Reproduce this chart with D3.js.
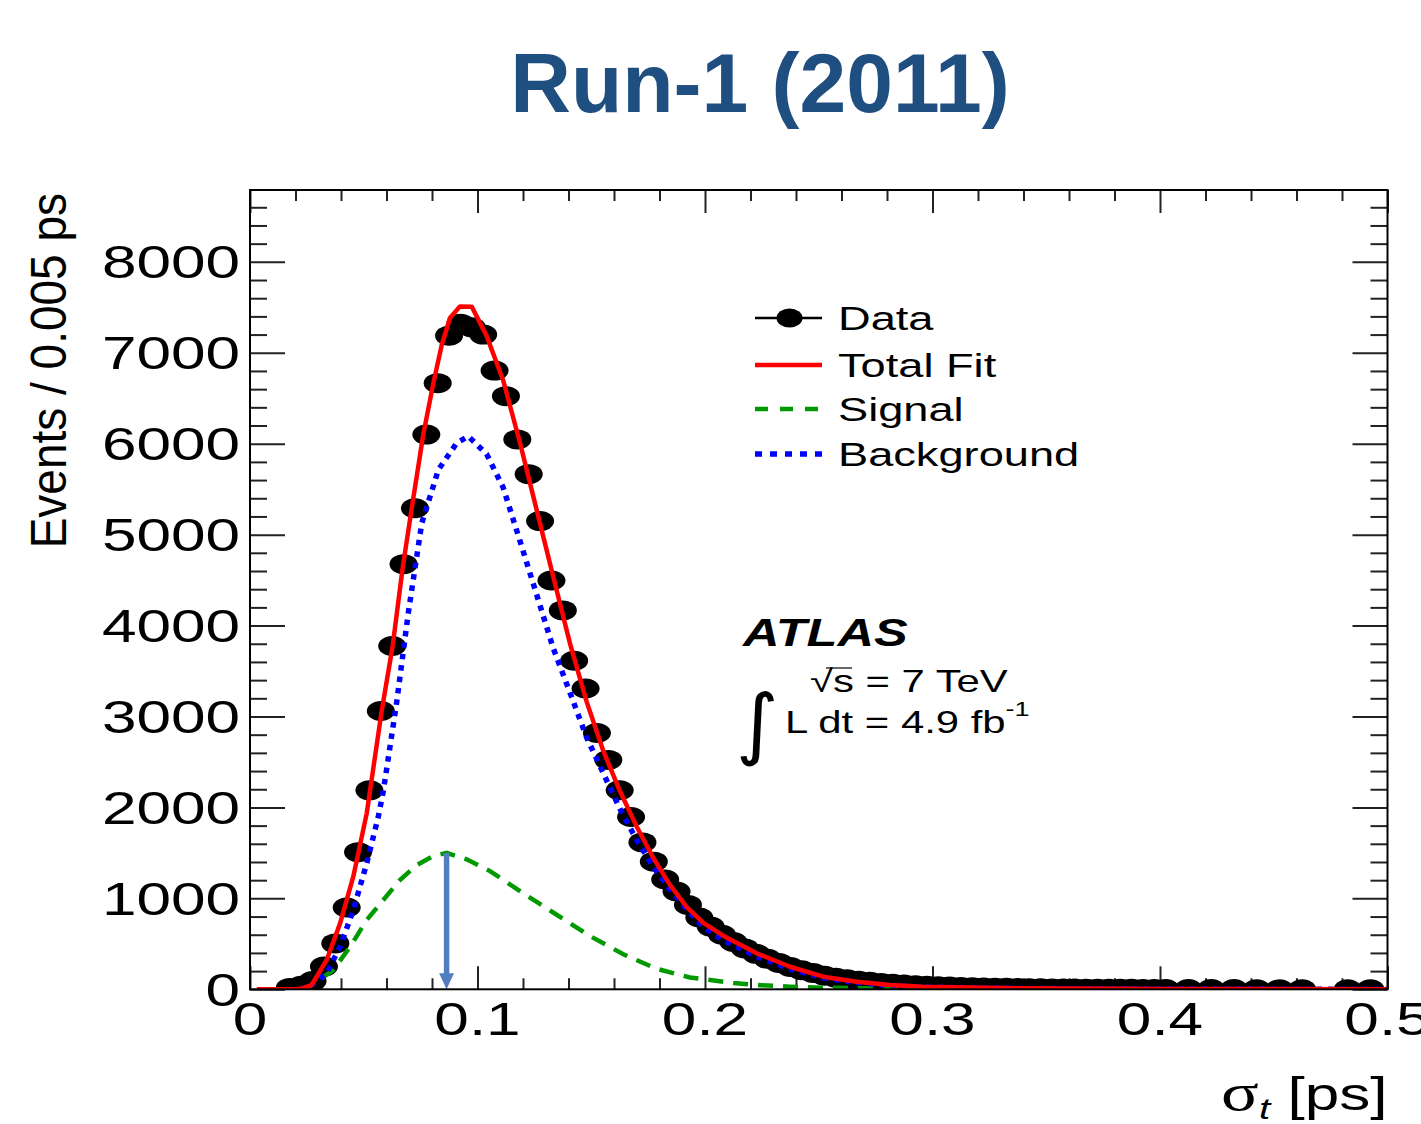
<!DOCTYPE html>
<html>
<head>
<meta charset="utf-8">
<script src="https://cdn.jsdelivr.net/npm/d3@7"></script>
<style>
  body { margin: 0; background: #fff; }
  svg { display: block; }
</style>
</head>
<body>
<svg id="chart" width="1421" height="1124"></svg>
<script>
// ---- data -------------------------------------------------------------
const binWidth = 0.005;   // ps per bin
// events per bin (first bin centred at 0.0025 ps); null = empty bin, not drawn
const dataCounts = [
  null, null, null, 15, 40, 90, 250, 505, 900, 1508,
  2188, 3060, 3775, 4675, 5290, 6100, 6666, 7188, 7320, 7280,
  7200, 6804, 6523, 6047, 5665, 5149, 4496, 4167, 3613, 3308,
  2818, 2523, 2189, 1895, 1615, 1404, 1207, 1075, 928, 790,
  690, 600, 520, 450, 390, 335, 290, 245, 210, 180,
  150, 128, 110, 95, 82, 70, 60, 52, 45, 39,
  34, 30, 26, 23, 20, 18, 16, 14, 12, 11,
  10, 9, 8, 7, 6, 6, 5, 5, 4, 4,
  3, null, 3, null, 2, null, 2, null, 1, null,
  1, null, 1, null, null, null, 1, null, 1, null
];

// fitted curves: sampled σt (ps) and events / 0.005 ps
const totalFitX = [0.003, 0.0205, 0.0227, 0.0271, 0.0337, 0.0396, 0.0454, 0.0513, 0.0579, 0.0627,
  0.0671, 0.0711, 0.0762, 0.0806, 0.0843, 0.0879, 0.0923, 0.0975, 0.104, 0.1113,
  0.1187, 0.126, 0.1333, 0.1407, 0.148, 0.1553, 0.1626, 0.17, 0.1773, 0.1846,
  0.192, 0.1993, 0.208, 0.2227, 0.2374, 0.252, 0.2667, 0.2813, 0.2958, 0.34, 0.4, 0.5];
const totalFitY = [0, 0, 10, 47, 322, 725, 1238, 1935, 3063, 3775,
  4633, 5292, 6106, 6666, 7088, 7382, 7510, 7505, 7186, 6695,
  6008, 5272, 4536, 3799, 3161, 2621, 2180, 1787, 1444, 1149,
  904, 730, 590, 396, 248, 139, 84, 47, 29, 11, 4, 1];

const signalX = [0.022, 0.025, 0.0366, 0.044, 0.0513, 0.0586, 0.0659, 0.0733, 0.0806, 0.0864,
  0.0952, 0.1055, 0.1201, 0.1348, 0.1495, 0.1641, 0.1788, 0.1934, 0.2125, 0.2227,
  0.2374, 0.252, 0.28, 0.33, 0.5];
const signalY = [0, 10, 212, 468, 762, 982, 1202, 1367, 1466, 1500,
  1430, 1300, 1056, 820, 585, 385, 225, 130, 70, 47,
  29, 18, 8, 2, 0];

const backgroundX = [0.022, 0.025, 0.0337, 0.0396, 0.0454, 0.0513, 0.0564, 0.0586, 0.0645, 0.0696,
  0.0755, 0.0828, 0.0909, 0.096, 0.104, 0.1113, 0.1187, 0.126, 0.1333, 0.1407,
  0.148, 0.1553, 0.1626, 0.17, 0.1773, 0.1846, 0.192, 0.1993, 0.208, 0.2227,
  0.2374, 0.252, 0.2667, 0.2813, 0.2958, 0.34, 0.4, 0.5];
const backgroundY = [0, 10, 176, 468, 872, 1385, 1898, 2180, 3161, 4143,
  5125, 5714, 6008, 6081, 5886, 5517, 4928, 4340, 3750, 3259,
  2768, 2376, 1984, 1640, 1345, 1100, 879, 683, 540, 360,
  225, 125, 74, 42, 25, 9, 3, 1];

// axis ticks
const xMajorTicks = [0, 0.1, 0.2, 0.3, 0.4, 0.5];
const xTickLabels = ["0", "0.1", "0.2", "0.3", "0.4", "0.5"];
const yMajorTicks = [0, 1000, 2000, 3000, 4000, 5000, 6000, 7000, 8000];
const yTickLabels = ["0", "1000", "2000", "3000", "4000", "5000", "6000", "7000", "8000"];

const legendLabels = ["Data", "Total Fit", "Signal", "Background"];

// ---- layout -----------------------------------------------------------
const svg = d3.select("#chart");
const W = 1421, H = 1124;
const plot = { left: 250, right: 1387.5, top: 190, bottom: 989.3 };
const yMax = 8790;
const stretch = 1.35;          // horizontal stretch of the plot lettering
const sans = "'Liberation Sans', Arial, Helvetica, sans-serif";

const x = d3.scaleLinear().domain([0, 0.5]).range([plot.left, plot.right]);
const y = d3.scaleLinear().domain([0, yMax]).range([plot.bottom, plot.top]);

svg.append("rect").attr("width", W).attr("height", H).attr("fill", "#fff");

// title
svg.append("text")
  .attr("x", 760).attr("y", 112)
  .attr("text-anchor", "middle")
  .attr("font-family", sans).attr("font-weight", "bold").attr("font-size", 84)
  .attr("fill", "#1f4e80")
  .text("Run-1 (2011)");

// clip for plot contents
svg.append("clipPath").attr("id", "plotClip")
  .append("rect")
  .attr("x", plot.left).attr("y", plot.top)
  .attr("width", plot.right - plot.left).attr("height", plot.bottom - plot.top);

// ---- ticks (mirrored on all four sides) ------------------------------
const xMinorTicks = d3.range(0, 0.5001, 0.02).filter(v => Math.abs(v * 10 - Math.round(v * 10)) > 1e-6);
const yMinorTicks = d3.range(0, yMax, 200).filter(v => v % 1000 !== 0);

function tickAxis(axis, translate, values, size) {
  const g = svg.append("g").attr("transform", translate)
    .call(axis.tickValues(values).tickSize(size).tickFormat(""));
  g.select(".domain").remove();
  g.selectAll(".tick line").attr("stroke", "#222").attr("stroke-width", 2);
  return g;
}
// bottom (pointing up), top (pointing down)
tickAxis(d3.axisTop(x), `translate(0,${plot.bottom})`, xMajorTicks, 23);
tickAxis(d3.axisTop(x), `translate(0,${plot.bottom})`, xMinorTicks, 11);
tickAxis(d3.axisBottom(x), `translate(0,${plot.top})`, xMajorTicks, 23);
tickAxis(d3.axisBottom(x), `translate(0,${plot.top})`, xMinorTicks, 11);
// left (pointing right), right (pointing left)
tickAxis(d3.axisRight(y), `translate(${plot.left},0)`, yMajorTicks, 35);
tickAxis(d3.axisRight(y), `translate(${plot.left},0)`, yMinorTicks, 17);
tickAxis(d3.axisLeft(y), `translate(${plot.right},0)`, yMajorTicks, 35);
tickAxis(d3.axisLeft(y), `translate(${plot.right},0)`, yMinorTicks, 17);

// tick labels
svg.append("g").selectAll("g").data(xMajorTicks).join("g")
  .attr("transform", d => `translate(${x(d)},1035) scale(${stretch},1)`)
  .append("text")
  .attr("text-anchor", "middle")
  .attr("font-family", sans).attr("font-size", 46).attr("fill", "#000")
  .text((d, i) => xTickLabels[i]);

svg.append("g").selectAll("g").data(yMajorTicks).join("g")
  .attr("transform", d => `translate(240,${y(d) + 16.5}) scale(${stretch},1)`)
  .append("text")
  .attr("text-anchor", "end")
  .attr("font-family", sans).attr("font-size", 46).attr("fill", "#000")
  .text((d, i) => yTickLabels[i]);

// axis titles
svg.append("g").attr("transform", "translate(66,193) rotate(-90) scale(1,1.08)")
  .append("text")
  .attr("text-anchor", "end")
  .attr("font-family", sans).attr("font-size", 46).attr("fill", "#000")
  .text("Events / 0.005 ps");

const xTitle = svg.append("g").attr("transform", `translate(${plot.right},1110) scale(${stretch},1)`)
  .append("text").attr("text-anchor", "end")
  .attr("font-family", sans).attr("font-size", 46).attr("fill", "#000");
xTitle.append("tspan").attr("font-family", "'Liberation Serif', 'DejaVu Serif', serif").attr("font-size", 52).text("σ");
xTitle.append("tspan").attr("font-style", "italic").attr("font-size", 30).attr("dy", 9).text("t");
xTitle.append("tspan").attr("dy", -9).text(" [ps]");

// ---- marks ------------------------------------------------------------
const content = svg.append("g").attr("clip-path", "url(#plotClip)");

const points = dataCounts
  .map((v, i) => ({ xv: binWidth * (i + 0.5), yv: v }))
  .filter(d => d.yv !== null);

content.append("g").selectAll("ellipse").data(points).join("ellipse")
  .attr("cx", d => x(d.xv)).attr("cy", d => y(d.yv))
  .attr("rx", 14).attr("ry", 10)
  .attr("fill", "#000");

const line = d3.line().x(d => x(d[0])).y(d => y(d[1]));
const zip = (xs, ys) => xs.map((v, i) => [v, ys[i]]);

const styles = {
  signal: { stroke: "#009a00", width: 4.5, dash: "15,10" },
  background: { stroke: "#0000ff", width: 5.5, dash: "5.5,6" },
  total: { stroke: "#ff0000", width: 4.5, dash: null }
};

content.append("path").datum(zip(signalX, signalY))
  .attr("d", line).attr("fill", "none")
  .attr("stroke", styles.signal.stroke).attr("stroke-width", styles.signal.width)
  .attr("stroke-dasharray", styles.signal.dash);

content.append("path").datum(zip(backgroundX, backgroundY))
  .attr("d", line).attr("fill", "none")
  .attr("stroke", styles.background.stroke).attr("stroke-width", styles.background.width)
  .attr("stroke-dasharray", styles.background.dash);

content.append("path").datum(zip(totalFitX, totalFitY))
  .attr("d", line).attr("fill", "none")
  .attr("stroke", styles.total.stroke).attr("stroke-width", styles.total.width)
  .attr("stroke-linejoin", "round");

// arrow marking the signal peak
const peakIdx = d3.maxIndex(signalY);
const arrowX = x(signalX[peakIdx]);
const arrowTop = y(signalY[peakIdx]);
const arrowColor = "#4f7fbf";
svg.append("line")
  .attr("x1", arrowX).attr("x2", arrowX)
  .attr("y1", arrowTop).attr("y2", plot.bottom - 14)
  .attr("stroke", arrowColor).attr("stroke-width", 5.5);
svg.append("path")
  .attr("d", `M${arrowX - 7.5},${plot.bottom - 16} L${arrowX + 7.5},${plot.bottom - 16} L${arrowX},${plot.bottom} Z`)
  .attr("fill", arrowColor);

// frame
svg.append("rect")
  .attr("x", plot.left).attr("y", plot.top)
  .attr("width", plot.right - plot.left).attr("height", plot.bottom - plot.top)
  .attr("fill", "none").attr("stroke", "#000").attr("stroke-width", 2);

// ---- legend -----------------------------------------------------------
const legendRows = [318, 365, 409, 454];
const leg = svg.append("g");
const sx0 = 755, sx1 = 822;

// Data
leg.append("line").attr("x1", sx0).attr("x2", sx1).attr("y1", legendRows[0]).attr("y2", legendRows[0])
  .attr("stroke", "#000").attr("stroke-width", 2.5);
leg.append("ellipse").attr("cx", (sx0 + sx1) / 2 + 1).attr("cy", legendRows[0]).attr("rx", 13).attr("ry", 9.5).attr("fill", "#000");
// Total Fit
leg.append("line").attr("x1", sx0).attr("x2", sx1).attr("y1", legendRows[1]).attr("y2", legendRows[1])
  .attr("stroke", styles.total.stroke).attr("stroke-width", styles.total.width);
// Signal
leg.append("line").attr("x1", sx0).attr("x2", sx1).attr("y1", legendRows[2]).attr("y2", legendRows[2])
  .attr("stroke", styles.signal.stroke).attr("stroke-width", styles.signal.width).attr("stroke-dasharray", "13,12");
// Background
leg.append("line").attr("x1", sx0).attr("x2", sx1).attr("y1", legendRows[3]).attr("y2", legendRows[3])
  .attr("stroke", styles.background.stroke).attr("stroke-width", styles.background.width).attr("stroke-dasharray", "7,8");

leg.selectAll("g.lbl").data(legendLabels).join("g").attr("class", "lbl")
  .attr("transform", (d, i) => `translate(838,${legendRows[i] + 12}) scale(1.37,1)`)
  .append("text")
  .attr("font-family", sans).attr("font-size", 33).attr("fill", "#000")
  .text(d => d);

// ---- experiment label -------------------------------------------------
svg.append("g").attr("transform", `translate(743,646) scale(1.33,1)`)
  .append("text")
  .attr("font-family", sans).attr("font-weight", "bold").attr("font-style", "italic")
  .attr("font-size", 38).attr("fill", "#000")
  .text("ATLAS");

svg.append("g").attr("transform", `translate(810,692) scale(${stretch},1)`)
  .append("text")
  .attr("font-family", sans).attr("font-size", 31).attr("fill", "#000")
  .text("√s = 7 TeV");
svg.append("line").attr("x1", 826).attr("x2", 852).attr("y1", 668).attr("y2", 668)
  .attr("stroke", "#000").attr("stroke-width", 1.2);

svg.append("g").attr("transform", `translate(736,750) scale(1.05,1)`)
  .append("text")
  .attr("font-family", "'DejaVu Sans', sans-serif").attr("font-size", 78).attr("fill", "#000")
  .text("∫");

const lumi = svg.append("g").attr("transform", `translate(785,733) scale(${stretch},1)`)
  .append("text")
  .attr("font-family", sans).attr("font-size", 31).attr("fill", "#000");
lumi.append("tspan").text("L dt = 4.9 fb");
lumi.append("tspan").attr("font-size", 20).attr("dy", -17).text("-1");
</script>
</body>
</html>
